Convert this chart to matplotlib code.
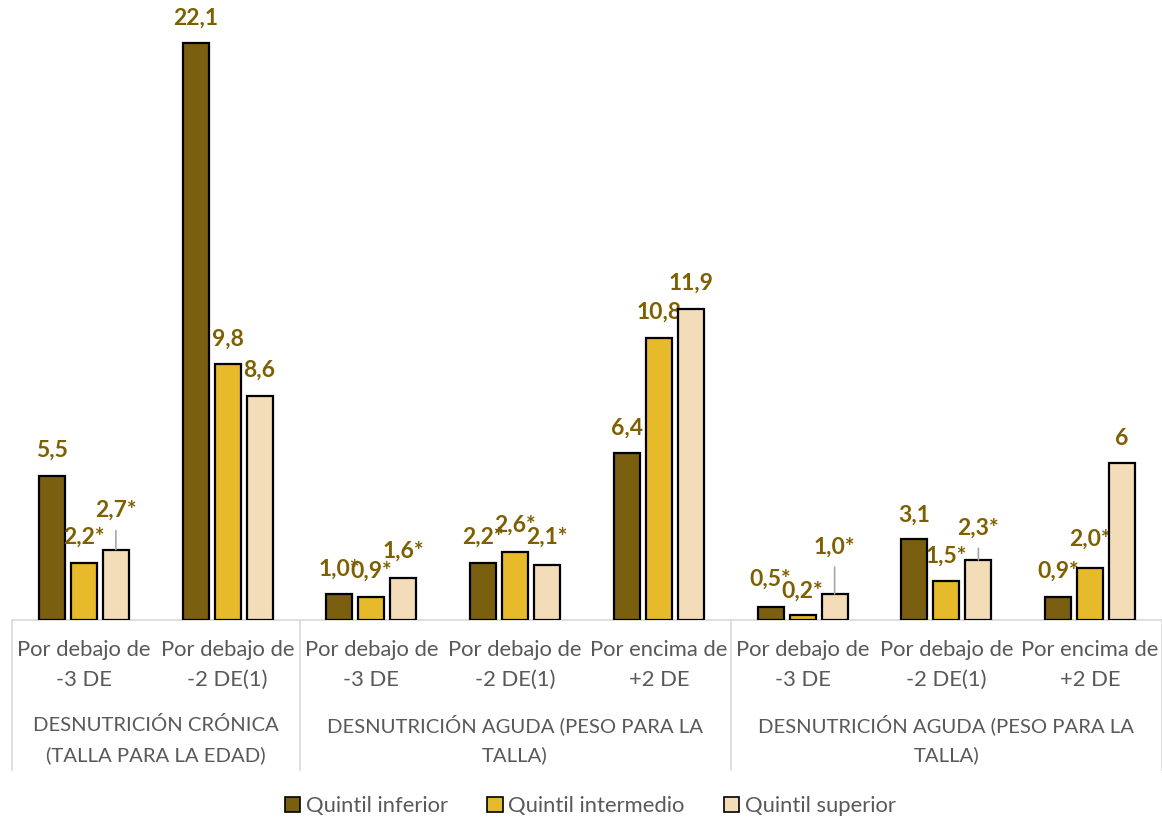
import numpy as np
import matplotlib.pyplot as plt
from matplotlib.patches import Patch
from matplotlib.transforms import blended_transform_factory

plt.rcParams['font.family'] = ['Lato', 'DejaVu Sans']

# Datos
subcats = ["Por debajo de\n-3 DE", "Por debajo de\n-2 DE(1)",
           "Por debajo de\n-3 DE", "Por debajo de\n-2 DE(1)", "Por encima de\n+2 DE",
           "Por debajo de\n-3 DE", "Por debajo de\n-2 DE(1)", "Por encima de\n+2 DE"]
grupos = ["DESNUTRICIÓN CRÓNICA\n(TALLA PARA LA EDAD)",
          "DESNUTRICIÓN AGUDA (PESO PARA LA\nTALLA)",
          "DESNUTRICIÓN AGUDA (PESO PARA LA\nTALLA)"]
grupo_limites = [0, 2, 5, 8]
series = ["Quintil inferior", "Quintil intermedio", "Quintil superior"]
q_inf = [5.5, 22.1, 1.0, 2.2, 6.4, 0.5, 3.1, 0.9]
q_int = [2.2, 9.8, 0.9, 2.6, 10.8, 0.2, 1.5, 2.0]
q_sup = [2.7, 8.6, 1.6, 2.1, 11.9, 1.0, 2.3, 6.0]
et_inf = ["5,5", "22,1", "1,0*", "2,2*", "6,4", "0,5*", "3,1", "0,9*"]
et_int = ["2,2*", "9,8", "0,9*", "2,6*", "10,8", "0,2*", "1,5*", "2,0*"]
et_sup = ["2,7*", "8,6", "1,6*", "2,1*", "11,9", "1,0*", "2,3*", "6"]

colores = ["#7a5f10", "#e6ba2a", "#f3ddb8"]
col_et = "#7f6000"
gris = "#595959"

# desplazamiento vertical de las etiquetas (px) y lineas guia
dy = [[26, 25, 25, 25, 25, 28, 24, 25],
      [25, 25, 25, 27, 26, 24, 25, 29],
      [39, 25, 27, 28, 26, 47, 32, 25]]
guia = [[False] * 8, [False] * 8,
        [True, False, False, False, False, True, True, False]]

fig = plt.figure(figsize=(11.62, 8.18), dpi=100)
ax = fig.add_axes([12 / 1162, 198 / 818, 1150 / 1162, 597.7 / 818])

x = np.arange(len(subcats)) + 0.5
w = 0.181
paso = 0.2226
valores = [q_inf, q_int, q_sup]
etiquetas = [et_inf, et_int, et_sup]
for i, (vals, ets) in enumerate(zip(valores, etiquetas)):
    xs = x + (i - 1) * paso
    ax.bar(xs, vals, width=w, color=colores[i], edgecolor="black", linewidth=1.6,
           label=series[i], zorder=3)
    for j, (xx, v, t) in enumerate(zip(xs, vals, ets)):
        kw = {}
        if guia[i][j]:
            kw = dict(arrowprops=dict(arrowstyle="-", color="#a6a6a6", lw=1.2,
                                      relpos=(0.5, 0), shrinkA=5, shrinkB=0))
        ax.annotate(t, xy=(xx, v), xytext=(0, dy[i][j]), textcoords="offset pixels",
                    ha="center", va="center", fontsize=16.5, fontweight="bold",
                    color=col_et, **kw)

ax.set_xlim(0, 8)
ax.set_ylim(0, 22.9)
for s in ["top", "left", "right"]:
    ax.spines[s].set_visible(False)
ax.spines["bottom"].set_color("#d9d9d9")
ax.spines["bottom"].set_linewidth(1.2)
ax.set_yticks([])
ax.set_xticks([])

tr = blended_transform_factory(ax.transData, ax.transAxes)
px = 1 / 597.7
fs = 15.8
for xx, lab in zip(x, subcats):
    l1, l2 = lab.split("\n")
    ax.text(xx, -30 * px, l1, transform=tr, ha="center", va="center",
            fontsize=fs, color=gris)
    ax.text(xx, -60 * px, l2, transform=tr, ha="center", va="center",
            fontsize=fs, color=gris)

for g, lab in enumerate(grupos):
    xc = (grupo_limites[g] + grupo_limites[g + 1]) / 2
    l1, l2 = lab.split("\n")
    ax.text(xc, -105 * px, l1, transform=tr, ha="center", va="center",
            fontsize=14.6, color=gris)
    ax.text(xc, -135 * px, l2, transform=tr, ha="center", va="center",
            fontsize=14.6, color=gris)

for b in grupo_limites:
    ax.plot([b, b], [0, -150 * px], transform=tr, color="#d9d9d9", lw=1.2,
            clip_on=False)

handles = [Patch(facecolor=c, edgecolor="black", linewidth=1.2) for c in colores]
fig.legend(handles, series, loc="center", bbox_to_anchor=(0.508, 12 / 818), ncol=3,
           frameon=False, fontsize=fs, handlelength=0.7, handleheight=0.7,
           handletextpad=0.25, columnspacing=1.8, labelcolor=gris)

fig.savefig("out.png", dpi=100)
